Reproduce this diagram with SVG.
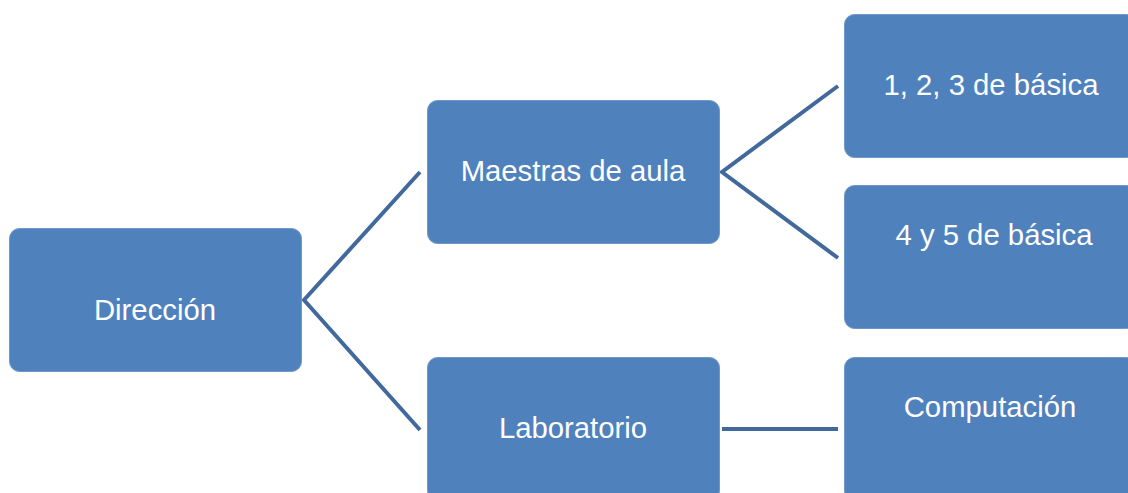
<svg xmlns="http://www.w3.org/2000/svg" width="1128" height="493" viewBox="0 0 1128 493">
<style>
.box{fill:#4f81bd;stroke:#6f97c9;stroke-width:1}
.t{font-family:"Liberation Sans",Arial,sans-serif;font-size:29.3px;fill:#ffffff;text-anchor:middle}
.c{stroke:#41699c;stroke-width:4;fill:none}
</style>
<rect width="1128" height="493" fill="#ffffff"/>
<g id="connectors">
<polyline class="c" points="420,172 304,300 420,430"/>
<polyline class="c" points="838,86 722,172 838,258"/>
<line class="c" x1="722" y1="429" x2="838" y2="429"/>
</g>
<g id="direccion">
<rect class="box" x="9.5" y="228.5" width="292" height="143" rx="10"/>
<text class="t" x="155" y="320">Dirección</text>
</g>
<g id="maestras">
<rect class="box" x="427.5" y="100.5" width="292" height="143" rx="10"/>
<text class="t" x="573" y="181">Maestras de aula</text>
</g>
<g id="basica123">
<rect class="box" x="844.5" y="14.5" width="292" height="143" rx="10"/>
<text class="t" x="991" y="95">1, 2, 3 de básica</text>
</g>
<g id="basica45">
<rect class="box" x="844.5" y="185.5" width="292" height="143" rx="10"/>
<text class="t" x="994" y="245">4 y 5 de básica</text>
</g>
<g id="laboratorio">
<rect class="box" x="427.5" y="357.5" width="292" height="143" rx="10"/>
<text class="t" x="573" y="438">Laboratorio</text>
</g>
<g id="computacion">
<rect class="box" x="844.5" y="357.5" width="292" height="143" rx="10"/>
<text class="t" x="990" y="417">Computación</text>
</g>
</svg>
